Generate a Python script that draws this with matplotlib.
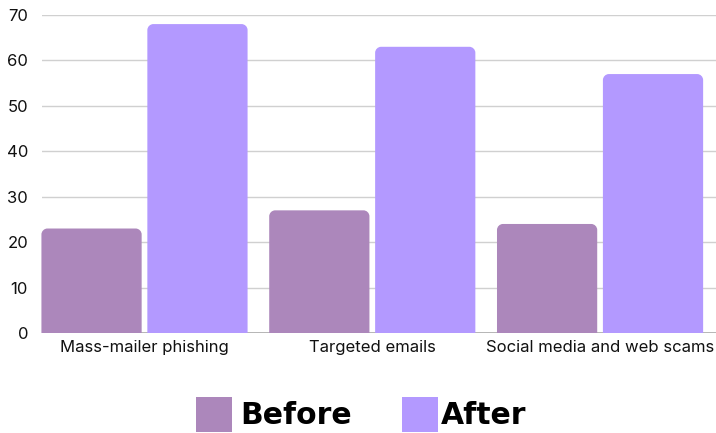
import matplotlib
matplotlib.use("Agg")
import matplotlib.pyplot as plt
from matplotlib.path import Path
from matplotlib.patches import PathPatch, Rectangle
import numpy as np

categories = ["Mass-mailer phishing", "Targeted emails", "Social media and web scams"]
before = [23, 27, 24]
after = [68, 63, 57]
series_names = ["Before", "After"]
colors = ["#ac87bb", "#b399ff"]
yticks = [0, 10, 20, 30, 40, 50, 60, 70]

plt.rcParams["font.family"] = ["Inter", "DejaVu Sans"]

W, H = 716, 433
fig = plt.figure(figsize=(W / 100, H / 100), dpi=100)
ax = fig.add_axes([42 / W, 1 - 333 / H, 1 - 42 / W, (333 - 15) / H])

x = np.arange(len(categories))
bw = 0.44
off = 0.2325
bars_b = ax.bar(x - off, before, bw, color=colors[0], zorder=3)
bars_a = ax.bar(x + off, after, bw, color=colors[1], zorder=3)

ax.set_xlim(-0.45, 2.509)
ax.set_ylim(0, 70)
ax.set_yticks(yticks)
ax.set_xticks(x)
ax.set_xticklabels(categories)
ax.tick_params(axis="both", length=0, labelsize=12, colors="#111111")
ax.tick_params(axis="y", pad=10)
ax.tick_params(axis="x", pad=5)
for s in ax.spines.values():
    s.set_visible(False)
ax.grid(axis="y", color="#d0d0d0", linewidth=1, zorder=0)
ax.axhline(0, color="#b0b0b0", linewidth=2, zorder=2)


def rounded_top(rect, r=6):
    # Replace a plain bar with one whose top corners are rounded (display px)
    (x0, y0), (x1, y1) = ax.transData.transform(
        [(rect.get_x(), rect.get_y()), (rect.get_x() + rect.get_width(), rect.get_y() + rect.get_height())])
    k = 0.5523 * r
    verts = [(x0, y0), (x0, y1 - r), (x0, y1 - r + k), (x0 + r - k, y1), (x0 + r, y1),
             (x1 - r, y1), (x1 - r + k, y1), (x1, y1 - r + k), (x1, y1 - r), (x1, y0), (x0, y0)]
    codes = [Path.MOVETO, Path.LINETO, Path.CURVE4, Path.CURVE4, Path.CURVE4,
             Path.LINETO, Path.CURVE4, Path.CURVE4, Path.CURVE4, Path.LINETO, Path.CLOSEPOLY]
    p = PathPatch(Path(verts, codes), facecolor=rect.get_facecolor(), edgecolor="none",
                  transform=None, zorder=3)
    fig.add_artist(p)
    rect.set_visible(False)


for rect in list(bars_b) + list(bars_a):
    rounded_top(rect)

# legend drawn in figure pixel coordinates
legend_items = [(196, 240), (402, 441)]
for (sx, tx), name, c in zip(legend_items, series_names, colors):
    fig.add_artist(Rectangle((sx / W, 1 - 432 / H), 36 / W, 35 / H, transform=fig.transFigure,
                             facecolor=c, edgecolor="none"))
    fig.text(tx / W, 1 - 415 / H, name, fontsize=21.5, fontweight="black", va="center", ha="left",
             color="#000000", family=["DejaVu Sans"])

fig.savefig("out.png", dpi=100)
